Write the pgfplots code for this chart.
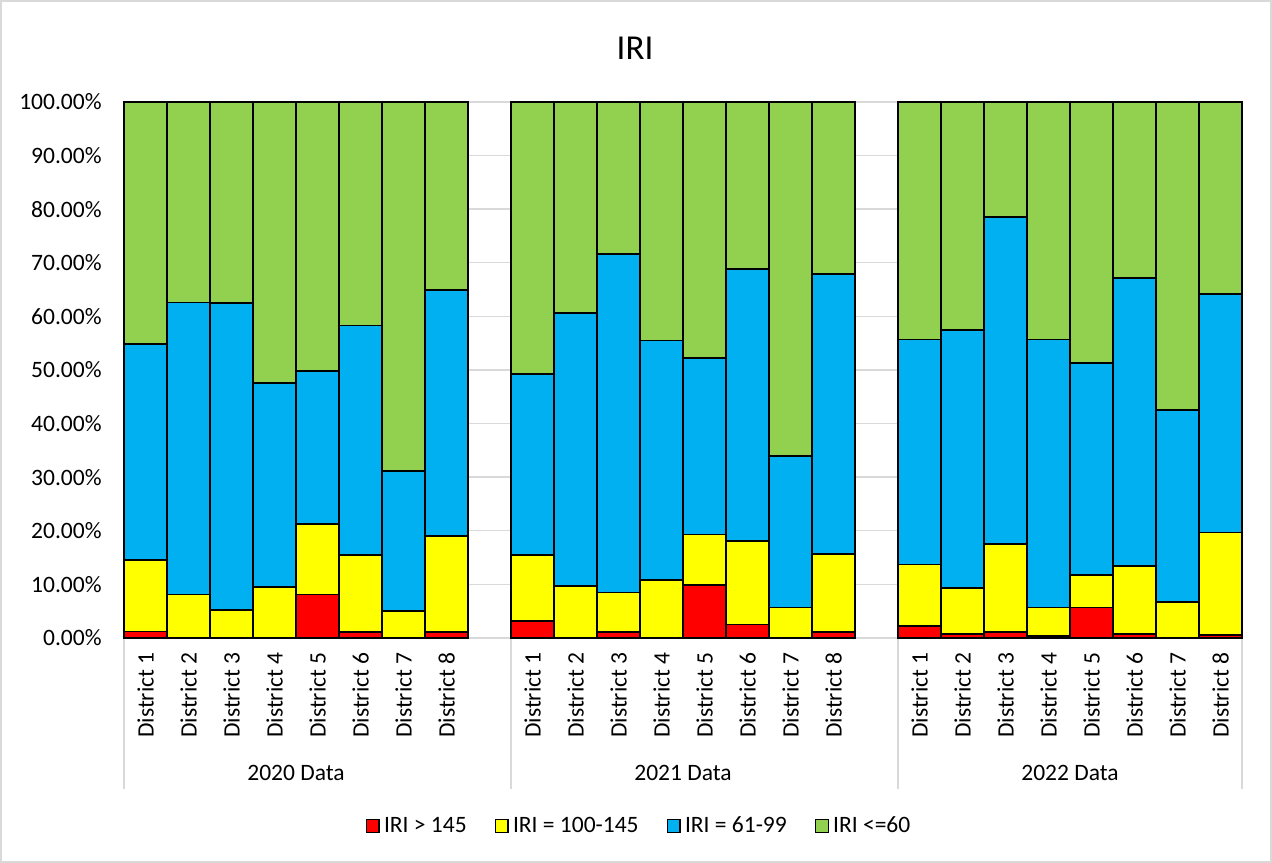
\documentclass[border=0pt]{standalone}
\usepackage{fontspec}
\setmainfont{Carlito}
\usepackage{pgfplots}
\usepackage{pgfplotstable}
\pgfplotsset{compat=1.18}

\definecolor{iriRed}{HTML}{FF0000}
\definecolor{iriYellow}{HTML}{FFFF00}
\definecolor{iriBlue}{HTML}{00B0F0}
\definecolor{iriGreen}{HTML}{92D050}
\definecolor{gridgray}{HTML}{D9D9D9}

% x: slot position (8 districts per year, one empty slot between years)
\pgfplotstableread{
x  red  yellow blue green
0  1.2  13.4   40.2 45.2
1  0    8.1    54.5 37.4
2  0    5.2    57.3 37.5
3  0    9.5    38.0 52.5
4  8.1  13.2   28.5 50.2
5  1.1  14.4   42.8 41.7
6  0    5.1    26.0 68.9
7  1.1  18.0   45.8 35.1
9  3.1  12.4   33.8 50.7
10 0    9.7    50.9 39.4
11 1.1  7.4    63.2 28.3
12 0    10.8   44.7 44.5
13 9.9  9.4    32.9 47.8
14 2.5  15.6   50.8 31.1
15 0    5.7    28.3 66.0
16 1.1  14.6   52.2 32.1
18 2.2  11.5   42.0 44.3
19 0.7  8.7    48.0 42.6
20 1.1  16.4   61.0 21.5
21 0.4  5.3    50.0 44.3
22 5.7  6.0    39.6 48.7
23 0.8  12.7   53.7 32.8
24 0.1  6.6    35.9 57.4
25 0.6  19.1   44.5 35.8
}\iridata

\newcommand{\lblfont}{\fontsize{11.75bp}{14bp}\selectfont}

\begin{document}
\begin{tikzpicture}
\useasboundingbox (0,0) rectangle (636bp,431.5bp);
\draw[gridgray, line width=1bp] (0.5bp,0.5bp) rectangle (635.5bp,431bp);
\node[font=\fontsize{17.5bp}{20bp}\selectfont] at (317.5bp,407.5bp) {IRI};
\begin{axis}[
    at={(62bp,112.5bp)}, anchor=south west,
    width=559bp, height=268bp, scale only axis,
    ybar stacked,
    bar width=1,
    xmin=-0.5, xmax=25.5,
    ymin=0, ymax=100,
    enlargelimits=false,
    clip=false,
    axis line style={draw=none},
    major tick length=0pt,
    ymajorgrids,
    grid style={gridgray, line width=0.7bp},
    ytick={0,10,...,100},
    /pgf/number format/assume math mode=true,
    yticklabel={\pgfmathprintnumber[fixed,fixed zerofill,precision=2]{\tick}\%},
    yticklabel style={font=\lblfont, anchor=east, inner sep=0pt, xshift=-11bp},
    xtick={0,...,7,9,10,...,16,18,19,...,25},
    xticklabels={District 1,District 2,District 3,District 4,District 5,District 6,District 7,District 8,
                 District 1,District 2,District 3,District 4,District 5,District 6,District 7,District 8,
                 District 1,District 2,District 3,District 4,District 5,District 6,District 7,District 8},
    xticklabel style={font=\lblfont, rotate=90, anchor=east, inner sep=0pt},
    xticklabel shift=7bp,
    every axis plot/.append style={draw=black, line width=0.9bp},
    legend style={at={(0.4615,-0.3507)}, anchor=center, draw=none, fill=none,
        font=\lblfont, legend columns=4,
        /tikz/every even column/.append style={column sep=12bp}},
    legend image code/.code={\draw[#1, line width=0.8bp] (0bp,-3.2bp) rectangle (6.4bp,3.2bp);},
]
\addplot[fill=iriRed] table[x=x, y=red] {\iridata};
\addplot[fill=iriYellow] table[x=x, y=yellow] {\iridata};
\addplot[fill=iriBlue] table[x=x, y=blue] {\iridata};
\addplot[fill=iriGreen] table[x=x, y=green] {\iridata};
\legend{IRI > 145, IRI = 100-145, IRI = 61-99, IRI <=60}

% category group separators and labels
\draw[gridgray, line width=0.8bp] (axis cs:-0.5,0) -- ([yshift=-75.5bp]axis cs:-0.5,0);
\draw[gridgray, line width=0.8bp] (axis cs:8.5,0) -- ([yshift=-75.5bp]axis cs:8.5,0);
\draw[gridgray, line width=0.8bp] (axis cs:17.5,0) -- ([yshift=-75.5bp]axis cs:17.5,0);
\draw[gridgray, line width=0.8bp] (axis cs:25.5,0) -- ([yshift=-75.5bp]axis cs:25.5,0);
\node[font=\lblfont] at ([yshift=-67.5bp]axis cs:3.5,0) {2020 Data};
\node[font=\lblfont] at ([yshift=-67.5bp]axis cs:12.5,0) {2021 Data};
\node[font=\lblfont] at ([yshift=-67.5bp]axis cs:21.5,0) {2022 Data};
\end{axis}
\end{tikzpicture}
\end{document}
